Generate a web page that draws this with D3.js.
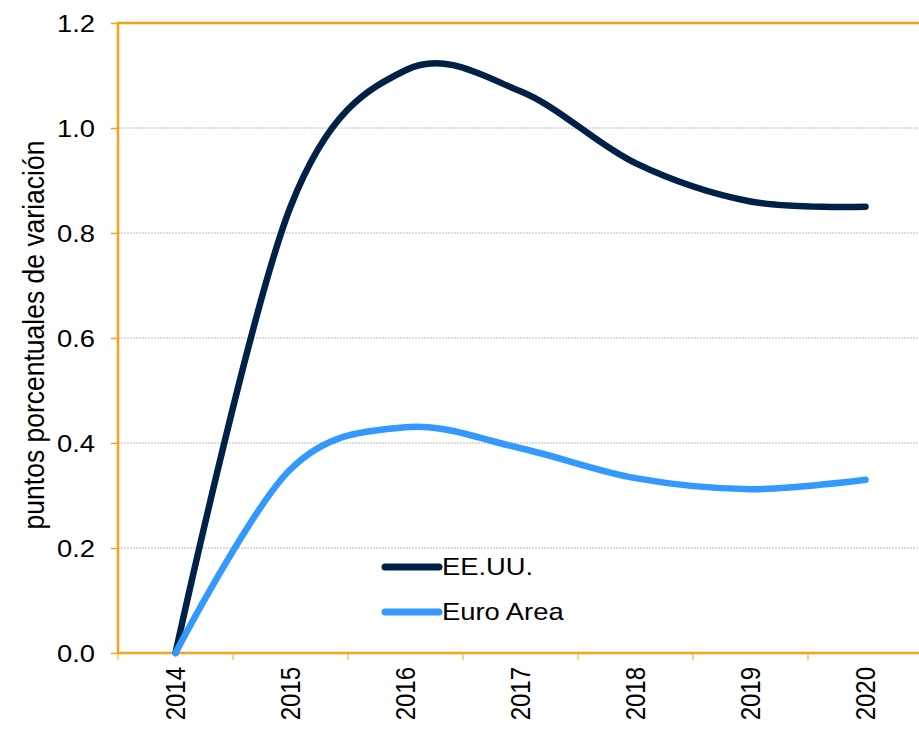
<!DOCTYPE html>
<html>
<head>
<meta charset="utf-8">
<script src="https://cdn.jsdelivr.net/npm/d3@7.9.0/dist/d3.min.js"></script>
<style>
  html, body { margin: 0; padding: 0; background: #fff; }
  svg { display: block; font-family: "Liberation Sans", Arial, sans-serif; }
</style>
</head>
<body>
<svg id="chart" width="919" height="729"></svg>
<script>
// ---------- Data ----------
const years = ['2014', '2015', '2016', '2017', '2018', '2019', '2020'];
const usValues = [0, 0.85, 1.11, 1.07, 0.933, 0.86, 0.85];
const euroValues = [0, 0.35, 0.43, 0.39, 0.333, 0.312, 0.33];
const yTicks = [0, 0.2, 0.4, 0.6, 0.8, 1.0, 1.2];

const seriesList = [
  { name: 'EE.UU.', values: usValues, color: '#002147' },
  { name: 'Euro Area', values: euroValues, color: '#3399ff' },
];

const orange = '#f9a11b';
const stretch = 1.14; // reference text looks a bit wide

// ---------- Layout ----------
const width = 919, height = 729;
const margin = { top: 23, right: -4, bottom: 76, left: 118 };
const usable = {
  left: margin.left,
  right: width - margin.right,
  top: margin.top,
  bottom: height - margin.bottom,
};

const svg = d3.select('#chart');

// Scales
const xBand = d3.scaleBand().domain(years).range([usable.left, usable.right]);
const xCenter = (y) => xBand(y) + xBand.bandwidth() / 2;
const yScale = d3.scaleLinear().domain([0, 1.2]).range([usable.bottom, usable.top]);

// Gridlines
svg.append('g')
  .attr('class', 'gridlines')
  .selectAll('line')
  .data(yTicks.filter((t) => t > 0 && t < 1.2))
  .join('line')
  .attr('x1', usable.left)
  .attr('x2', usable.right)
  .attr('y1', (d) => yScale(d))
  .attr('y2', (d) => yScale(d))
  .attr('stroke', '#b8b8b8')
  .attr('stroke-width', 1)
  .attr('stroke-dasharray', '2,1');

// Y axis
const yAxis = svg.append('g')
  .attr('transform', `translate(${usable.left},0)`)
  .call(d3.axisLeft(yScale).tickValues(yTicks).tickFormat(d3.format('.1f')).tickSize(7));
yAxis.select('.domain').remove();
yAxis.selectAll('.tick line').attr('stroke', orange).attr('stroke-width', 1.5);
yAxis.selectAll('.tick text')
  .attr('fill', '#000')
  .style('font-size', '24px')
  .attr('x', 0)
  .attr('dy', '0.35em')
  .attr('transform', `translate(-23,0) scale(${stretch},1)`);

// X axis (ticks at band boundaries)
const xAxis = svg.append('g')
  .attr('transform', `translate(0,${usable.bottom})`)
  .call(d3.axisBottom(xBand).tickSize(0).tickPadding(0));
xAxis.select('.domain').remove();
xAxis.selectAll('.tick text')
  .attr('fill', '#000')
  .style('font-size', '24px')
  .attr('text-anchor', 'end')
  .attr('transform', `translate(0,14) scale(${stretch},1) rotate(-90)`)
  .attr('dy', '0.35em')
  .attr('y', 0)
  .attr('x', 0);

svg.append('g')
  .selectAll('line')
  .data(years)
  .join('line')
  .attr('x1', (d) => xBand(d))
  .attr('x2', (d) => xBand(d))
  .attr('y1', usable.bottom)
  .attr('y2', usable.bottom + 7)
  .attr('stroke', orange)
  .attr('stroke-width', 1);

// Plot frame: left, top, bottom in orange
const frame = svg.append('g').attr('stroke', orange).attr('stroke-width', 2.5).attr('fill', 'none');
frame.append('path')
  .attr('d', `M${usable.left},${usable.bottom}V${usable.top}H${usable.right}`);
frame.append('line')
  .attr('x1', usable.left - 1)
  .attr('x2', usable.right)
  .attr('y1', usable.bottom)
  .attr('y2', usable.bottom);

// Y title
svg.append('text')
  .attr('transform', `translate(33,335) scale(${stretch},1) rotate(-90)`)
  .attr('text-anchor', 'middle')
  .attr('dy', '0.35em')
  .style('font-size', '26.5px')
  .text('puntos porcentuales de variación');

// Lines
const line = d3.line()
  .x((d, i) => xCenter(years[i]))
  .y((d) => yScale(d))
  .curve(d3.curveCatmullRom.alpha(0));

svg.append('g')
  .selectAll('path')
  .data(seriesList)
  .join('path')
  .attr('d', (s) => line(s.values))
  .attr('fill', 'none')
  .attr('stroke', (s) => s.color)
  .attr('stroke-width', 6.5)
  .attr('stroke-linecap', 'round')
  .attr('stroke-linejoin', 'round');

// Legend
const legend = svg.append('g').attr('transform', 'translate(385,567)');
const items = legend.selectAll('g')
  .data(seriesList)
  .join('g')
  .attr('transform', (d, i) => `translate(0,${i * 45})`);
items.append('line')
  .attr('x1', 0).attr('x2', 54)
  .attr('stroke', (d) => d.color)
  .attr('stroke-width', 7)
  .attr('stroke-linecap', 'round');
items.append('text')
  .attr('x', 0)
  .attr('dy', '0.35em')
  .attr('transform', `translate(57,0) scale(${stretch},1)`)
  .style('font-size', '24px')
  .text((d) => d.name);
</script>
</body>
</html>
